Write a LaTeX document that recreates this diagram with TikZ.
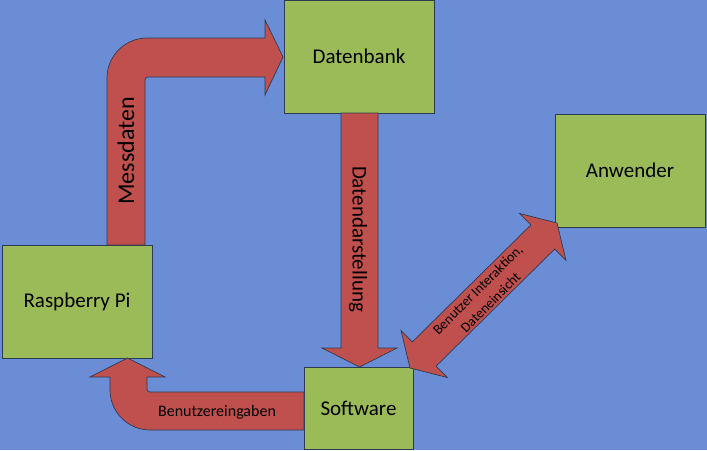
\documentclass[tikz,border=0pt]{standalone}
\usepackage{fontspec}
\setmainfont{Carlito}
\definecolor{bgblue}{RGB}{107,141,213}
\definecolor{boxgreen}{RGB}{155,187,89}
\definecolor{arrred}{RGB}{192,80,77}
\definecolor{edgecol}{RGB}{45,60,85}
\begin{document}
\begin{tikzpicture}[x=1pt,y=-1pt,
  box/.style={draw=edgecol, line width=0.8pt, fill=boxgreen, inner sep=0pt, font=\fontsize{21}{24}\selectfont},
  fatarrow/.style={draw=edgecol, line width=0.7pt, fill=arrred},
  lbl/.style={inner sep=0pt, text=black}]
\fill[bgblue] (0,0) rectangle (707,450);
\useasboundingbox (0,0) rectangle (707,450);
% boxes
\node[box, minimum width=150pt, minimum height=113pt] (db) at (359,56.5) {Datenbank};
\node[box, minimum width=150pt, minimum height=113pt] (user) at (630,170.5) {Anwender};
\node[box, minimum width=150pt, minimum height=113pt] (pi) at (77,301.5) {Raspberry Pi};
\node[box, minimum width=109pt, minimum height=82pt] (sw) at (358.5,408) {Software};
% Messdaten arrow
\draw[fatarrow] (107,245) -- (107,78) .. controls (107,56) and (125,38) .. (147,38)
  -- (265,38) -- (265,20) -- (283,57) -- (265,95) -- (265,77)
  [rounded corners=3pt] -- (145,77) [sharp corners] -- (145,245) -- cycle;
\node[lbl, rotate=90, font=\fontsize{24}{28}\selectfont] (mess) at (126,151) {Messdaten};
% Datendarstellung arrow
\draw[fatarrow] (341,113) -- (341,348) -- (322,348) -- (359.5,367) -- (397,348) -- (378,348) -- (378,113) -- cycle;
\node[lbl, rotate=-90, font=\fontsize{21}{24}\selectfont] (dar) at (358,239) {Datendarstellung};
% Double arrow
\draw[fatarrow] (410,368) -- (401.0,330.5) -- (412.3,341.9) -- (530.9,224.9) -- (519.6,213.5)
  -- (557,223) -- (566.0,260.5) -- (554.7,249.1) -- (436.1,366.1) -- (447.4,377.5) -- cycle;
\node[lbl, rotate=45, align=center, font=\fontsize{14}{18}\selectfont] (inter) at (484,296) {Benutzer Interaktion,\\Dateneinsicht};
% Benutzereingaben arrow
\draw[fatarrow] (304,392) [rounded corners=3pt] -- (147,392) [sharp corners] -- (147,377) -- (165,377)
  -- (127.5,358) -- (90,377) -- (110,377) -- (110,390) .. controls (110,412) and (128,430) .. (150,430)
  -- (304,430) -- cycle;
\node[lbl, font=\fontsize{16}{18}\selectfont] (ein) at (217,412) {Benutzereingaben};
\end{tikzpicture}
\end{document}
